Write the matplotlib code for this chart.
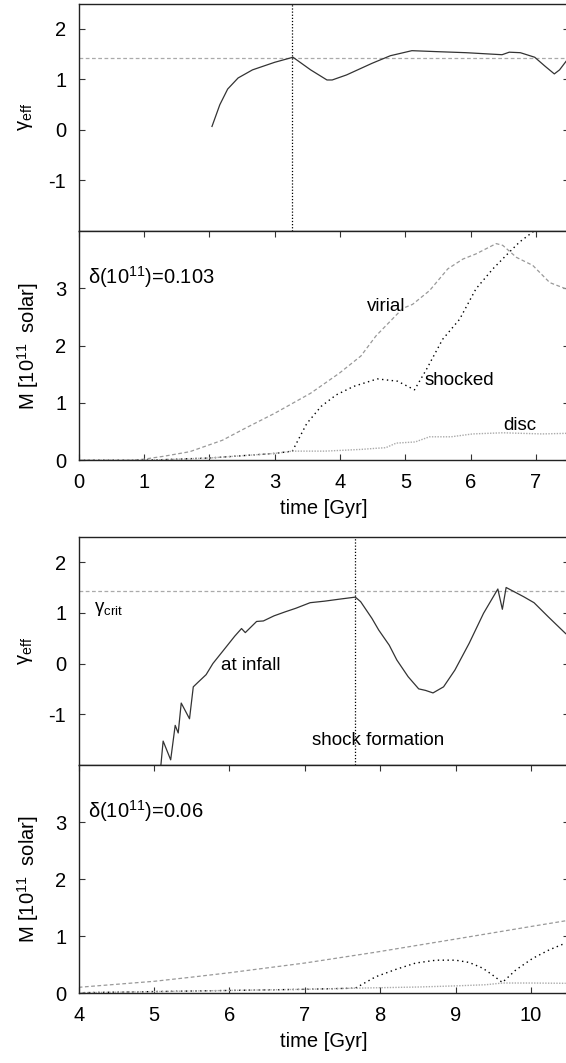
"""Effective adiabatic index and mass histories for two haloes (4 stacked panels)."""

import matplotlib
matplotlib.use("Agg")
import matplotlib.pyplot as plt

plt.rcParams["font.family"] = ["Liberation Sans", "DejaVu Sans"]
plt.rcParams["mathtext.fontset"] = "custom"
plt.rcParams["mathtext.rm"] = "Liberation Sans"
plt.rcParams["mathtext.it"] = "Liberation Sans:italic"
plt.rcParams["axes.unicode_minus"] = False

GAMMA_CRIT = 1.43

# --- halo 1: delta(1e11) = 0.103 ---------------------------------------
t_g1 = [2.04, 2.16, 2.28, 2.44, 2.66, 3.0, 3.28, 3.55, 3.80, 3.88, 4.10,
        4.49, 4.77, 5.10, 5.50, 5.93, 6.48, 6.59, 6.76, 6.98, 7.14, 7.28,
        7.36, 7.46]
g1 = [0.07, 0.50, 0.81, 1.03, 1.19, 1.34, 1.44, 1.19, 0.99, 0.99, 1.09,
      1.32, 1.47, 1.57, 1.55, 1.53, 1.49, 1.54, 1.53, 1.44, 1.26, 1.11,
      1.19, 1.36]
shock_t1 = 3.27

t_vir1 = [0.0, 0.8, 1.0, 1.3, 1.7, 2.0, 2.2, 2.55, 3.0, 3.55, 3.99, 4.32,
          4.55, 4.96, 5.11, 5.37, 5.65, 5.88, 6.08, 6.39, 6.49, 6.70, 6.95,
          7.21, 7.46]
m_vir1 = [0.0, 0.0, 0.02, 0.07, 0.15, 0.27, 0.35, 0.56, 0.82, 1.17, 1.52,
          1.82, 2.17, 2.65, 2.72, 2.96, 3.34, 3.51, 3.60, 3.78, 3.75, 3.54,
          3.40, 3.10, 2.99]

t_sh1 = [0.0, 1.0, 2.0, 3.0, 3.27, 3.49, 3.71, 3.94, 4.21, 4.57, 4.88, 5.14,
         5.32, 5.57, 5.83, 6.08, 6.34, 6.59, 6.75, 6.97]
m_sh1 = [0.0, 0.0, 0.04, 0.12, 0.16, 0.64, 0.94, 1.14, 1.29, 1.42, 1.38,
         1.23, 1.58, 2.11, 2.46, 2.99, 3.34, 3.63, 3.81, 4.0]

t_disc1 = [0.0, 1.0, 2.0, 3.0, 3.27, 3.77, 4.32, 4.56, 4.70, 4.86, 5.15,
           5.37, 5.70, 6.03, 6.49, 7.09, 7.46]
m_disc1 = [0.0, 0.0, 0.04, 0.12, 0.16, 0.16, 0.19, 0.21, 0.22, 0.30, 0.32,
           0.41, 0.41, 0.46, 0.48, 0.46, 0.47]

# --- halo 2: delta(1e11) = 0.06 ----------------------------------------
t_g2 = [5.09, 5.12, 5.22, 5.28, 5.32, 5.36, 5.47, 5.52, 5.59, 5.69, 5.78,
        5.92, 6.07, 6.16, 6.21, 6.36, 6.45, 6.59, 6.74, 6.88, 7.07, 7.26,
        7.46, 7.67, 7.74, 7.89, 7.98, 8.12, 8.22, 8.37, 8.51, 8.60, 8.70,
        8.84, 8.99, 9.18, 9.37, 9.56, 9.62, 9.67, 9.90, 10.04, 10.23, 10.46]
g2 = [-2.01, -1.53, -1.90, -1.22, -1.37, -0.78, -1.09, -0.46, -0.36, -0.22,
      0.0, 0.26, 0.54, 0.69, 0.61, 0.83, 0.84, 0.94, 1.02, 1.09, 1.20, 1.23,
      1.27, 1.31, 1.22, 0.89, 0.66, 0.36, 0.07, -0.26, -0.50, -0.53, -0.58,
      -0.46, -0.13, 0.40, 0.99, 1.47, 1.07, 1.50, 1.32, 1.20, 0.92, 0.59]
shock_t2 = 7.67

t_vir2 = [4.0, 5.0, 5.48, 6.0, 7.0, 7.94, 9.0, 10.0, 10.46]
m_vir2 = [0.105, 0.21, 0.28, 0.36, 0.53, 0.72, 0.95, 1.17, 1.27]

t_sh2 = [4.0, 5.0, 6.0, 7.0, 7.67, 7.94, 8.21, 8.47, 8.74, 9.00, 9.18, 9.36,
         9.49, 9.62, 9.80, 10.02, 10.24, 10.46]
m_sh2 = [0.01, 0.03, 0.05, 0.07, 0.09, 0.29, 0.42, 0.53, 0.58, 0.58, 0.54,
         0.44, 0.32, 0.19, 0.41, 0.61, 0.76, 0.88]

t_disc2 = [4.0, 5.0, 6.0, 7.0, 7.67, 8.5, 9.0, 9.4, 9.62, 10.0, 10.46]
m_disc2 = [0.01, 0.03, 0.05, 0.07, 0.09, 0.11, 0.13, 0.15, 0.18, 0.18, 0.175]

FS = 14.5
FS_NOTE = 13.5
W, H = 566, 1063
LEFT, RIGHT = 78.7, 568.7


def add_axes(fig, top_px, bottom_px):
    return fig.add_axes([LEFT / W, 1 - bottom_px / H,
                         (RIGHT - LEFT) / W, (bottom_px - top_px) / H])


def style(ax, xlim, ylim, yticks, xlabels):
    ax.set_xlim(*xlim)
    ax.set_ylim(*ylim)
    ax.set_yticks(yticks)
    ax.tick_params(direction="in", length=4, width=0.8, labelsize=FS,
                   pad=9, top=True, right=True, color="#333")
    if not xlabels:
        ax.tick_params(labelbottom=False, bottom=False, top=False)
    for s in ax.spines.values():
        s.set_linewidth(1.0)
        s.set_color("#222")


def gamma_panel(ax, t, g, shock_t, xlim):
    ax.axhline(GAMMA_CRIT, color="#aaaaaa", lw=0.9, ls=(0, (3, 2)))
    ax.axvline(shock_t, color="black", lw=0.9, ls=(0, (1, 1.5)))
    ax.plot(t, g, color="#333333", lw=0.9)
    style(ax, xlim, (-2, 2.5), [-1, 0, 1, 2], False)
    ax.set_ylabel(r"γ$_{\mathrm{eff}}$", fontsize=FS, labelpad=10)


def mass_panel(ax, tv, mv, ts, ms, td, md, label, xlim, xticks):
    ax.plot(tv, mv, color="#999999", lw=0.9, ls=(0, (3, 2)))
    ax.plot(ts, ms, color="black", lw=1.0, ls=(0, (1, 2.5)))
    ax.plot(td, md, color="#aaaaaa", lw=1.0, ls=(0, (1, 1)))
    style(ax, xlim, (0, 4), [0, 1, 2, 3], True)
    ax.set_xticks(xticks)
    ax.set_xlabel("time [Gyr]", fontsize=FS, labelpad=5)
    ax.set_ylabel(r"M [10$^{11}$  solar]", fontsize=FS, labelpad=10)
    x0 = xlim[0] + 0.02 * (xlim[1] - xlim[0])
    ax.text(x0, 3.2, label, fontsize=FS, ha="left", va="center")


fig = plt.figure(figsize=(W / 100, H / 100), dpi=100)

ax1 = add_axes(fig, 3.7, 231)
ax2 = add_axes(fig, 231, 460.3)
ax3 = add_axes(fig, 536.8, 764.9)
ax4 = add_axes(fig, 764.9, 993.3)

gamma_panel(ax1, t_g1, g1, shock_t1, (0, 7.5))
ax1.set_xticks(range(0, 8))
mass_panel(ax2, t_vir1, m_vir1, t_sh1, m_sh1, t_disc1, m_disc1,
           r"δ(10$^{11}$)=0.103", (0, 7.5), range(0, 8))
ax2.text(4.7, 2.68, "virial", fontsize=FS_NOTE, ha="center", va="center")
ax2.text(5.83, 1.39, "shocked", fontsize=FS_NOTE, ha="center", va="center")
ax2.text(6.75, 0.6, "disc", fontsize=FS_NOTE, ha="center", va="center")

gamma_panel(ax3, t_g2, g2, shock_t2, (4, 10.5))
ax3.set_xticks(range(4, 11))
ax3.text(4.2, 1.08, r"γ$_{\mathrm{crit}}$", fontsize=FS_NOTE,
         ha="left", va="center")
ax3.text(6.28, -0.03, "at infall", fontsize=FS_NOTE, ha="center", va="center")
ax3.text(7.97, -1.52, "shock formation", fontsize=FS_NOTE,
         ha="center", va="center")
mass_panel(ax4, t_vir2, m_vir2, t_sh2, m_sh2, t_disc2, m_disc2,
           r"δ(10$^{11}$)=0.06", (4, 10.5), range(4, 11))

fig.savefig("out.png", dpi=100)
